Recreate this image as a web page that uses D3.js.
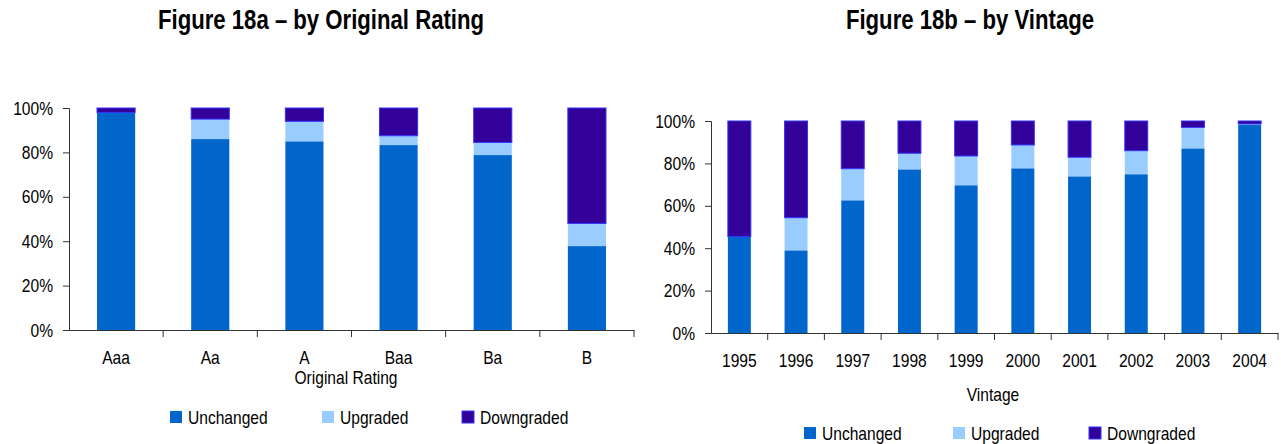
<!DOCTYPE html>
<html><head><meta charset="utf-8">
<script src="https://cdn.jsdelivr.net/npm/d3@7"></script>
<style>
body{margin:0;background:#fff;}
text{font-family:"Liberation Sans",Arial,sans-serif;fill:#000;}
</style></head>
<body><svg id="c" width="1281" height="444"></svg>
<script>
const seriesNames = ["Unchanged","Upgraded","Downgraded"];
const colors = ["#0066CC","#99CCFF","#330099"];

const ratingCats = ["Aaa","Aa","A","Baa","Ba","B"];
const ratingUnchanged = [98, 86, 85, 83.3, 78.8, 37.8];
const ratingUpgraded  = [0, 9, 9, 4.2, 5.7, 10.2];
const ratingDowngraded= [2, 5, 6, 12.5, 15.5, 52];

const vintageCats = ["1995","1996","1997","1998","1999","2000","2001","2002","2003","2004"];
const vintageUnchanged = [45.5, 39, 62.6, 77.2, 69.7, 77.7, 73.9, 74.9, 87.1, 98.1];
const vintageUpgraded  = [0, 15.4, 14.9, 7.6, 13.8, 11, 9, 11.1, 9.9, 0.5];
const vintageDowngraded= [54.5, 45.6, 22.5, 15.2, 16.5, 11.3, 17.1, 14, 3, 1.4];

const yTicks = [0,0.2,0.4,0.6,0.8,1.0];

const svg = d3.select("#c");
const FS = "19px";

function drawChart(cfg){
  const g = svg.append("g");
  const x = d3.scaleBand().domain(cfg.cats).range([cfg.x0, cfg.x1]).paddingInner(cfg.pad).paddingOuter(cfg.pad/2);
  const xb = d3.scaleBand().domain(cfg.cats).range([cfg.x0, cfg.x1]);
  const y = d3.scaleLinear().domain([0,1]).range([cfg.y0, cfg.y1]);
  const rows = cfg.cats.map((c,i)=>({cat:c, Unchanged:cfg.u[i]/100, Upgraded:cfg.up[i]/100, Downgraded:cfg.d[i]/100}));
  const stack = d3.stack().keys(seriesNames)(rows);
  stack.forEach((s,si)=>{
    g.selectAll(null).data(s).enter().append("rect")
      .attr("x", d=>x(d.data.cat)).attr("width", x.bandwidth())
      .attr("y", d=>y(Math.min(d[1],1))).attr("height", d=>Math.max(0,y(d[0])-y(Math.min(d[1],1))))
      .attr("fill", colors[si])
      .attr("stroke", si===2 ? "#3333FF" : "none").attr("stroke-width", si===2?1:0);
  });
  // y axis
  const ya = d3.axisLeft(y).tickValues(yTicks).tickFormat(d3.format(".0%")).tickSize(6).tickPadding(10);
  const yg = g.append("g").attr("transform",`translate(${cfg.x0},0)`).call(ya);
  yg.select(".domain").attr("stroke","#333");
  yg.selectAll(".tick line").attr("stroke","#333");
  yg.selectAll("text").style("font-size",FS);
  // x axis
  const xa = d3.axisBottom(xb).tickSize(0).tickFormat(d=>d).tickPadding(21);
  const xg = g.append("g").attr("transform",`translate(0,${cfg.y0})`).call(xa);
  xg.select(".domain").attr("stroke","#333");
  xg.selectAll("text").style("font-size",FS);
  // category boundary ticks
  const bounds = cfg.cats.map(c=>xb(c)).concat([cfg.x1]).slice(1);
  g.selectAll(null).data(bounds).enter().append("line")
    .attr("x1",d=>d).attr("x2",d=>d).attr("y1",cfg.y0).attr("y2",cfg.y0+7).attr("stroke","#333");
  // title
  g.append("text").attr("x",cfg.titleX).attr("y",29).attr("text-anchor","middle")
    .style("font-size","27px").style("font-weight","bold").text(cfg.title);
  // axis title
  g.append("text").attr("x",cfg.axTitleX).attr("y",cfg.axTitleY).attr("text-anchor","middle")
    .style("font-size",FS).text(cfg.axTitle);
  // legend
  const lg = g.append("g");
  seriesNames.forEach((s,i)=>{
    lg.append("rect").attr("x",cfg.legX[i]).attr("y",cfg.legY-6).attr("width",12).attr("height",12)
      .attr("fill",colors[i]).attr("stroke", i===2?"#3333FF":"none");
    lg.append("text").attr("x",cfg.legX[i]+18).attr("y",cfg.legY).attr("dy","0.35em")
      .style("font-size",FS).text(s);
  });
}

drawChart({cats:ratingCats,u:ratingUnchanged,up:ratingUpgraded,d:ratingDowngraded,
  x0:69,x1:634,y0:330,y1:108,pad:0.595,
  title:"Figure 18a \u2013 by Original Rating",titleX:321,
  axTitle:"Original Rating",axTitleX:346,axTitleY:384,
  legX:[170,322,462],legY:417});

drawChart({cats:vintageCats,u:vintageUnchanged,up:vintageUpgraded,d:vintageDowngraded,
  x0:711,x1:1278,y0:333,y1:121,pad:0.595,
  title:"Figure 18b \u2013 by Vintage",titleX:970,
  axTitle:"Vintage",axTitleX:993,axTitleY:401,
  legX:[804,953,1089],legY:433});

// emulate a narrow face: compress glyphs horizontally
svg.selectAll("text").each(function(){
  const w = this.getComputedTextLength();
  if (w > 0) d3.select(this).attr("textLength", (w*0.82).toFixed(2)).attr("lengthAdjust","spacingAndGlyphs");
});
</script></body></html>
